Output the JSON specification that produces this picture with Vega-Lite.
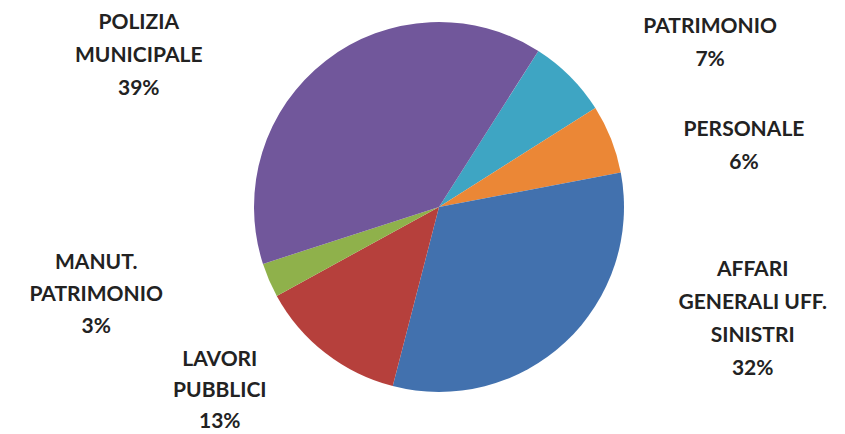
{
  "$schema": "https://vega.github.io/schema/vega-lite/v6.json",
  "width": 812,
  "height": 414,
  "autosize": {"type": "none"},
  "padding": {"left": 33, "top": 0, "right": 0, "bottom": 20},
  "background": "white",
  "config": {"view": {"stroke": null}},
  "data": {
    "values": [
      {"cat": "PATRIMONIO", "label": "PATRIMONIO\n7%", "value": 7, "idx": 1},
      {"cat": "PERSONALE", "label": "PERSONALE\n6%", "value": 6, "idx": 2},
      {"cat": "AFFARI GENERALI UFF. SINISTRI", "label": "AFFARI\nGENERALI UFF.\nSINISTRI\n32%", "value": 32, "idx": 3},
      {"cat": "LAVORI PUBBLICI", "label": "LAVORI\nPUBBLICI\n13%", "value": 13, "idx": 4},
      {"cat": "MANUT. PATRIMONIO", "label": "MANUT.\nPATRIMONIO\n3%", "value": 3, "idx": 5},
      {"cat": "POLIZIA MUNICIPALE", "label": "POLIZIA\nMUNICIPALE\n39%", "value": 39, "idx": 6}
    ]
  },
  "encoding": {
    "theta": {"field": "value", "type": "quantitative", "stack": true, "scale": {"range": [0.567, 6.850]}},
    "order": {"field": "idx", "type": "quantitative"}
  },
  "layer": [
    {
      "mark": {"type": "arc", "outerRadius": 185},
      "encoding": {
        "color": {
          "field": "cat", "type": "nominal",
          "scale": {
            "domain": ["PATRIMONIO", "PERSONALE", "AFFARI GENERALI UFF. SINISTRI", "LAVORI PUBBLICI", "MANUT. PATRIMONIO", "POLIZIA MUNICIPALE"],
            "range": ["#3ea5c3", "#eb8736", "#4271ae", "#b6403c", "#8fb14b", "#71579b"]
          },
          "legend": null
        }
      }
    },
    {
      "mark": {"type": "text", "radius": 317, "thetaOffset": 0.239, "dy": -16, "lineBreak": "\n", "font": "Lato", "fontSize": 21, "fontWeight": "bold", "lineHeight": 33, "color": "#222222", "align": "center", "baseline": "middle"},
      "encoding": {"text": {"condition": {"test": "datum.cat === 'PATRIMONIO'", "field": "label"}, "value": ""}}
    },
    {
      "mark": {"type": "text", "radius": 311, "thetaOffset": 0.178, "dy": -16, "lineBreak": "\n", "font": "Lato", "fontSize": 21, "fontWeight": "bold", "lineHeight": 33, "color": "#222222", "align": "center", "baseline": "middle"},
      "encoding": {"text": {"condition": {"test": "datum.cat === 'PERSONALE'", "field": "label"}, "value": ""}}
    },
    {
      "mark": {"type": "text", "radius": 333, "thetaOffset": -0.476, "dy": -49, "lineBreak": "\n", "font": "Lato", "fontSize": 21, "fontWeight": "bold", "lineHeight": 33, "color": "#222222", "align": "center", "baseline": "middle"},
      "encoding": {"text": {"condition": {"test": "datum.cat === 'AFFARI GENERALI UFF. SINISTRI'", "field": "label"}, "value": ""}}
    },
    {
      "mark": {"type": "text", "radius": 287, "thetaOffset": 0.208, "dy": -32, "lineBreak": "\n", "font": "Lato", "fontSize": 21, "fontWeight": "bold", "lineHeight": 31, "color": "#222222", "align": "center", "baseline": "middle"},
      "encoding": {"text": {"condition": {"test": "datum.cat === 'LAVORI PUBBLICI'", "field": "label"}, "value": ""}}
    },
    {
      "mark": {"type": "text", "radius": 354, "thetaOffset": 0.155, "dy": -32, "lineBreak": "\n", "font": "Lato", "fontSize": 21, "fontWeight": "bold", "lineHeight": 32, "color": "#222222", "align": "center", "baseline": "middle"},
      "encoding": {"text": {"condition": {"test": "datum.cat === 'MANUT. PATRIMONIO'", "field": "label"}, "value": ""}}
    },
    {
      "mark": {"type": "text", "radius": 336, "thetaOffset": -0.447, "dy": -33, "lineBreak": "\n", "font": "Lato", "fontSize": 21, "fontWeight": "bold", "lineHeight": 33, "color": "#222222", "align": "center", "baseline": "middle"},
      "encoding": {"text": {"condition": {"test": "datum.cat === 'POLIZIA MUNICIPALE'", "field": "label"}, "value": ""}}
    }
  ]
}
